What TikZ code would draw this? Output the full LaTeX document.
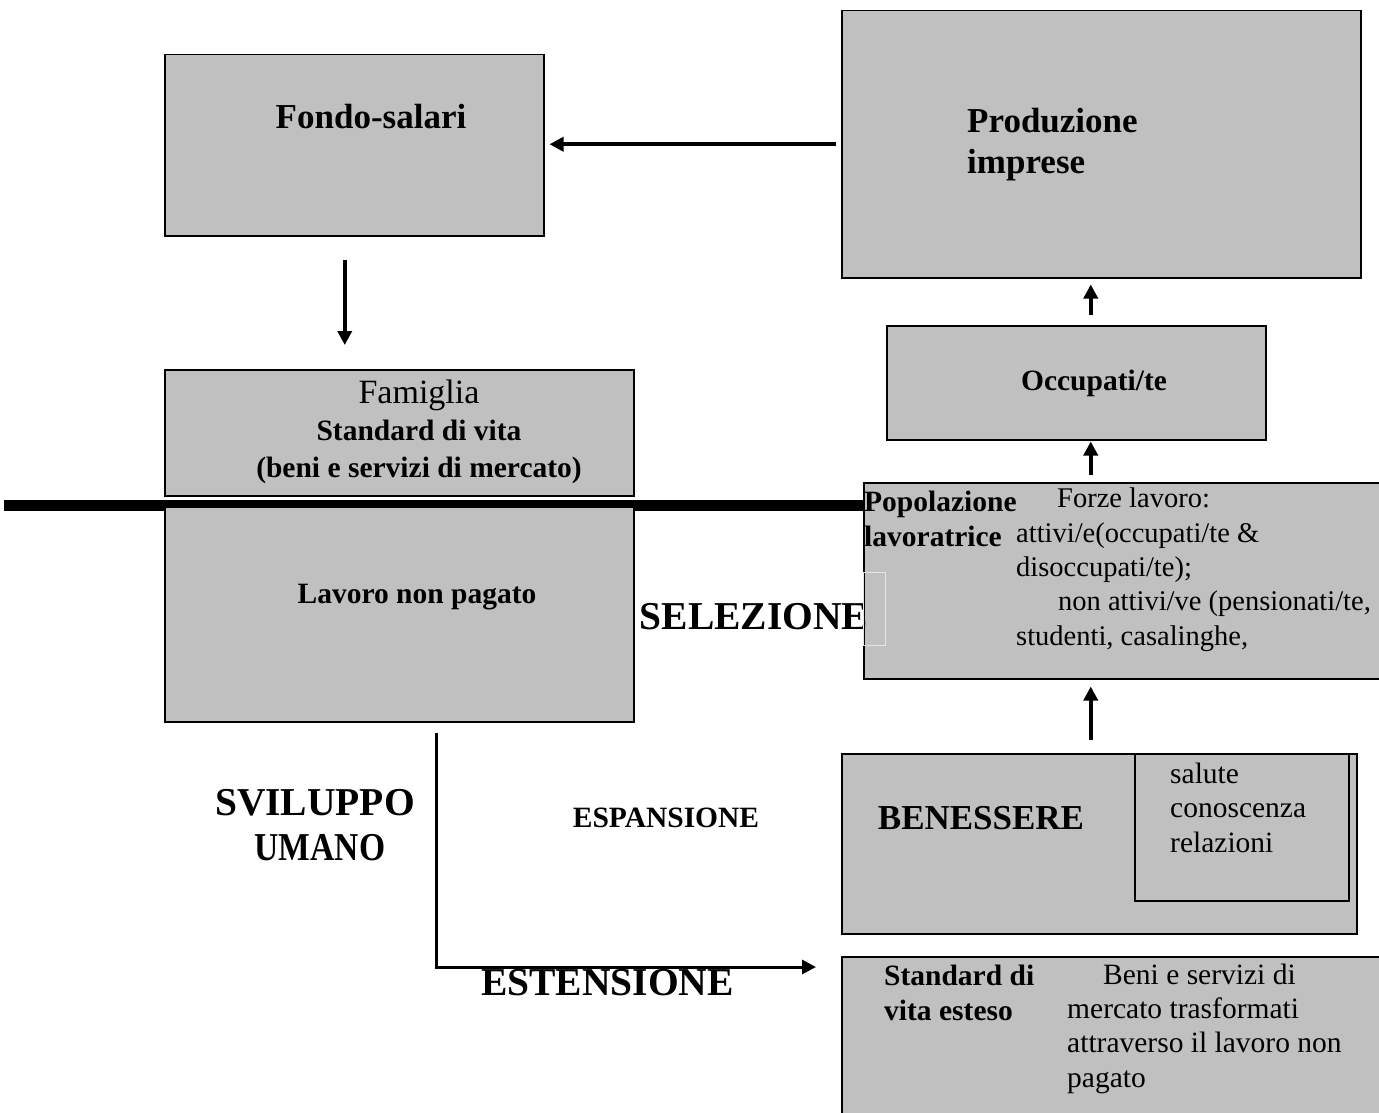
\documentclass[tikz,border=0pt]{standalone}
\usepackage{fontspec}
\setmainfont{Liberation Serif}
\usetikzlibrary{arrows.meta, positioning, backgrounds}
\definecolor{boxgray}{RGB}{192,192,192}
\newcommand{\bodysize}{\fontsize{29.5}{34.3}\selectfont}
\newcommand{\bigsize}{\fontsize{35}{41}\selectfont}
\newcommand{\hugesize}{\fontsize{39.5}{45}\selectfont}

\begin{document}
\begin{tikzpicture}[x=1pt,y=-1pt]
\tikzstyle{box} = [rectangle, draw=black, line width=1.5pt, fill=boxgray, anchor=north west, inner sep=0pt]
\tikzstyle{txt} = [inner sep=0pt, anchor=base west, align=left, font=\bodysize]
\tikzstyle{boldtxt} = [txt, font=\bodysize\bfseries]
\tikzstyle{arrow} = [line width=3.5pt, -{Triangle[length=14pt,width=14pt]}]
\useasboundingbox (0,0) rectangle (1379,1113);
% upper part: market
\node (fondo) [box, minimum width=379pt, minimum height=181pt] at (164,54) {};
\node (fondotxt) [boldtxt, font=\bigsize\bfseries, anchor=base] at (371,129) {Fondo-salari};
\node (prod) [box, minimum width=519pt, minimum height=267pt] at (841,10) {};
\node (prodtxt) [boldtxt, font=\bigsize\bfseries] at (967,174) {Produzione\\imprese};
\node (famiglia) [box, minimum width=469pt, minimum height=126pt] at (164,369) {};
\node (famtxt) [txt, anchor=base, align=center, font=\fontsize{29.5}{37}\selectfont\bfseries] at (419,477)
  {{\mdseries\fontsize{34}{37}\selectfont Famiglia}\\Standard di vita\\(beni e servizi di mercato)};
\node (occ) [box, minimum width=379pt, minimum height=114pt] at (886,325) {};
\node (occtxt) [boldtxt, anchor=base] at (1094,390) {Occupati/te};
% lower part: unpaid work
\node (lavoro) [box, minimum width=469pt, minimum height=215pt] at (164,506) {};
\node (lavtxt) [boldtxt, anchor=base] at (417,603) {Lavoro non pagato};
\node (pop) [box, minimum width=525pt, minimum height=196pt] at (863,482) {};
\node (poptxt) [boldtxt] at (864,546) {Popolazione\\lavoratrice};
\node (forze) [txt, font=\fontsize{28.5}{34.3}\selectfont] at (1016,645) {\hspace*{41pt}Forze lavoro:\\attivi/e(occupati/te \&\\disoccupati/te);\\\hspace*{42pt}non attivi/ve (pensionati/te,\\studenti, casalinghe,};
\node (selez) [boldtxt, font=\hugesize\bfseries, anchor=base] at (754,629) {SELEZIONE};
\draw[white!80!gray, line width=0.8pt] (863,572) rectangle (885,645);
\node (ben) [box, minimum width=515pt, minimum height=180pt] at (841,753) {};
\node (bentxt) [boldtxt, font=\bigsize\bfseries, anchor=base] at (981,829) {BENESSERE};
\node (dimens) [box, minimum width=214pt, minimum height=147pt] at (1134,753) {};
\node (dimtxt) [txt] at (1170,852) {salute\\conoscenza\\relazioni};
\node (svil) [boldtxt, font=\hugesize\bfseries, anchor=base] at (315,815) {SVILUPPO};
\node (umano) [boldtxt, font=\hugesize\bfseries, anchor=base] at (320,860) {\scalebox{0.85}[1]{UMANO}};
\node (espans) [boldtxt, anchor=base] at (666,827) {ESPANSIONE};
\node (estens) [boldtxt, font=\hugesize\bfseries] at (481,995) {ESTENSIONE};
\node (esteso) [box, minimum width=545pt, minimum height=170pt] at (841,956) {};
\node (estesotxt) [boldtxt] at (884,1020) {Standard di\\vita esteso};
\node (beni) [txt] at (1067,1087) {\hspace*{36pt}Beni e servizi di\\mercato trasformati\\attraverso il lavoro non\\pagato};
\coordinate (turn) at (436,967);
\coordinate (divleft) at (4,505);
% arrows
\draw [arrow, shorten <=5pt, shorten >=5pt] (prod.west) -- (prod.west -| fondo.east);
\draw [arrow, shorten <=23pt, shorten >=24pt] ([xshift=-9.5pt]fondo.south) -- ([xshift=-9.5pt]fondo.south |- famiglia.north);
\draw [arrow, shorten <=10pt, shorten >=6pt] ([xshift=14.5pt]occ.north) -- ([xshift=14.5pt]occ.north |- prod.south);
\draw [arrow, shorten <=7pt, shorten >=1pt] ([xshift=14.5pt]occ.south |- pop.north) -- ([xshift=14.5pt]occ.south);
\draw [arrow, shorten <=13pt, shorten >=7pt] ([xshift=-8.5pt]ben.north) -- ([xshift=-8.5pt]ben.north |- pop.south);
\draw [arrow, line width=3pt, shorten <=10pt, shorten >=25pt] (lavoro.south -| turn) |- (esteso.west |- turn);
\begin{scope}[on background layer]
\draw [line width=11pt] (divleft) -- (divleft -| pop.west);
\end{scope}
\end{tikzpicture}
\end{document}
